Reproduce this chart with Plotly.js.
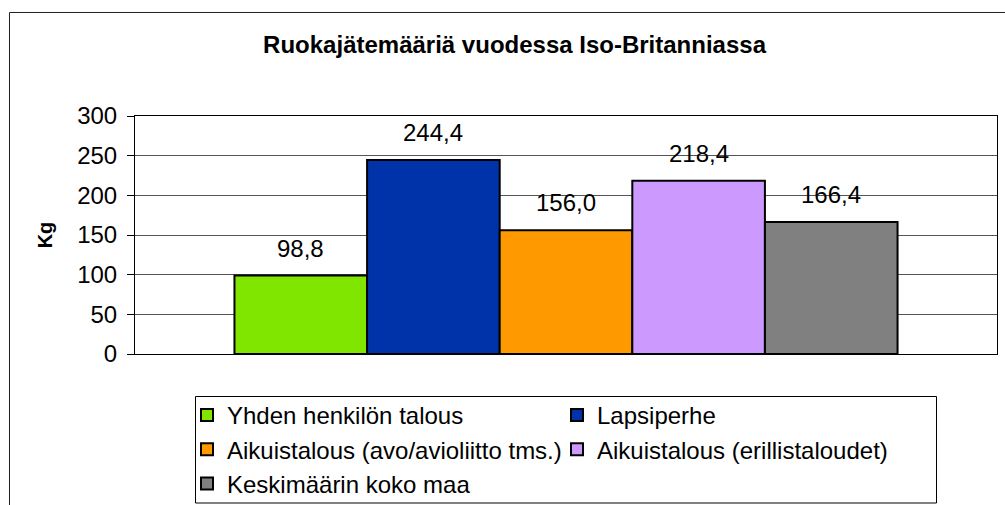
<!DOCTYPE html>
<html><head><meta charset="utf-8">
<script src="https://cdn.plot.ly/plotly-3.0.1.min.js"></script>
<style>html,body{margin:0;padding:0;background:#fff}#chart{width:1005px;height:505px}</style>
</head><body><div id="chart"></div>
<script>
const titleText = 'Ruokajätemääriä vuodessa Iso-Britanniassa';
const yTitle = 'Kg';
const seriesNames = ['Yhden henkilön talous', 'Lapsiperhe', 'Aikuistalous (avo/avioliitto tms.)', 'Aikuistalous (erillistaloudet)', 'Keskimäärin koko maa'];
const seriesValues = [98.8, 244.4, 156.0, 218.4, 166.4];
const seriesColors = ['#80E600', '#0033AA', '#FF9900', '#CC99FF', '#808080'];
const yTickValues = [0, 50, 100, 150, 200, 250, 300];
const yTickLabels = ['0', '50', '100', '150', '200', '250', '300'];

const fmt = v => v.toFixed(1).replace('.', ',');
const FONT = 'Liberation Sans, Arial, sans-serif';

const traces = seriesNames.map((name, i) => ({
  type: 'bar', name: name, x: [name], y: [seriesValues[i]],
  marker: {color: seriesColors[i], line: {color: '#000', width: 2}},
  hoverinfo: 'skip'
}));

const annotations = seriesNames.map((name, i) => ({
  x: name, y: seriesValues[i], xref: 'x', yref: 'y',
  text: fmt(seriesValues[i]), showarrow: false,
  yanchor: 'bottom', yshift: 12,
  font: {family: FONT, size: 24, color: '#000'}
}));

const layout = {
  width: 1005, height: 505,
  margin: {l: 135, r: 8, t: 116, b: 151, pad: 0, autoexpand: false},
  paper_bgcolor: '#fff', plot_bgcolor: '#fff',
  font: {family: FONT, size: 24, color: '#000'},
  title: {
    text: '<b>' + titleText + '</b>',
    font: {family: FONT, size: 24, color: '#000'},
    xref: 'container', x: 0.512, xanchor: 'center',
    yref: 'container', y: 0.9283, yanchor: 'top'
  },
  barmode: 'overlay', bargap: 0,
  showlegend: true,
  xaxis: {
    type: 'category', range: [-1.25, 5.25], fixedrange: true,
    showticklabels: false, ticks: '', showgrid: false, zeroline: false,
    showline: true, linecolor: '#000', linewidth: 1, mirror: true
  },
  yaxis: {
    range: [0, 300], tickvals: yTickValues, ticktext: yTickLabels,
    ticks: 'outside', ticklen: 7, tickcolor: '#000', tickwidth: 1,
    ticklabelstandoff: 5,
    tickfont: {family: FONT, size: 24, color: '#000'},
    showgrid: true, gridcolor: '#555', gridwidth: 1, zeroline: false,
    showline: true, linecolor: '#000', linewidth: 1, mirror: true,
    automargin: false, fixedrange: true,
    title: {text: '<b>' + yTitle + '</b>', font: {family: FONT, size: 20, color: '#000'}, standoff: 19}
  },
  legend: {
    orientation: 'h', xref: 'container', x: 187 / 1005, xanchor: 'left',
    yref: 'container', y: 1 - 393 / 505, yanchor: 'top',
    entrywidth: 325, entrywidthmode: 'pixels', traceorder: 'normal',
    font: {family: FONT, size: 24, color: '#000'},
    bgcolor: 'rgba(0,0,0,0)', borderwidth: 0
  },
  annotations: annotations,
  shapes: [
    {
      type: 'path', xref: 'paper', yref: 'paper',
      path: 'M -0.1456 -1 L -0.1456 1.4349 L 1.2 1.4349',
      line: {color: '#222', width: 1}
    },
    {
      type: 'rect', xref: 'paper', yref: 'paper', layer: 'below',
      x0: (195.5 - 135) / 862, x1: (936.5 - 135) / 862,
      y0: (354 - 396.5) / 238, y1: (354 - 503) / 238,
      line: {color: '#000', width: 1}, fillcolor: 'rgba(0,0,0,0)'
    }
  ]
};

Plotly.newPlot('chart', traces, layout, {staticPlot: true, displayModeBar: false});
</script></body></html>
